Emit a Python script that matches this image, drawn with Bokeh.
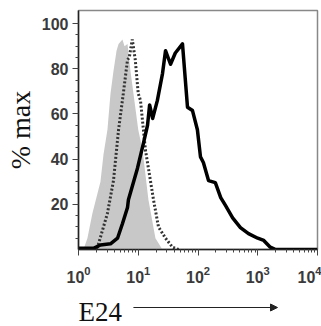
from bokeh.plotting import figure
from bokeh.layouts import column
from bokeh.models import (Range1d, FixedTicker, LogTicker, Arrow, NormalHead,
                          ColumnDataSource)
from bokeh.core.properties import value
from bokeh.embed import file_html
from bokeh.resources import INLINE

# Isotype control (gray filled)
iso_x = [1.21, 1.41, 1.71, 2.33, 2.62, 3.05, 3.43, 3.85, 4.33, 4.68, 5.44, 5.89,
         6.61, 7.41, 8.32, 10.0, 11.8, 14.8, 19.4, 25.4]
iso_y = [0, 5, 16, 30, 42, 53, 69, 79, 88, 91, 93, 90,
         91, 79, 69, 53, 44, 22, 5, 0]

# Dotted histogram
dot_x = [1.71, 2.08, 3.05, 3.85, 4.68, 5.62, 6.61, 7.08, 7.94, 8.91, 10.0, 10.9,
         13.2, 14.8, 18.0, 21.8, 28.6, 37.4, 47.2]
dot_y = [0, 1, 16, 30.5, 53, 69, 84, 85, 93, 84, 69, 66,
         44, 36, 22, 10, 5, 1, 0]

# E24 solid histogram
e24_x = [1.0, 1.78, 2.33, 3.43, 4.50, 5.45, 6.61, 6.85, 9.71, 12.2, 14.3, 15.5,
         17.4, 20.9, 25.5, 28.6, 34.7, 41.7, 55.0, 66.7, 80.9, 97.7, 110, 123,
         150, 195, 240, 288, 380, 513, 700, 1000, 1260, 1620, 2000, 10000]
e24_y = [0.5, 0.5, 2, 2.5, 5, 11.5, 18.6, 22, 36, 47, 55, 64,
         58, 66, 78, 88, 82, 87, 91, 63, 61.5, 53, 41, 38.5,
         30.5, 29.6, 23, 19.5, 14, 9.7, 7, 5, 4, 1, 0, 0]

y_major = [20, 40, 60, 80, 100]
y_minor = [5, 10, 15, 25, 30, 35, 45, 50, 55, 65, 70, 75, 85, 90, 95]
x_title = "E24"

p = figure(width=321, height=290, x_axis_type="log",
           x_range=Range1d(1, 10000), y_range=Range1d(0, 105.8),
           output_backend="svg", toolbar_location=None,
           min_border_left=78, min_border_right=4, min_border_top=10,
           min_border_bottom=41)
p.grid.visible = False
p.outline_line_color = "#888888"
p.outline_line_width = 1.5

iso_src = ColumnDataSource(dict(x=iso_x, y=iso_y, z=[0] * len(iso_x)))
p.varea(x="x", y1="z", y2="y", source=iso_src, fill_color="#c8c8c8")
p.line(dot_x, dot_y, line_color="#333333", line_width=3, line_dash="2 2")
p.line(e24_x, e24_y, line_color="black", line_width=3.5, line_join="round")

# Y axis
ya = p.yaxis[0]
ya.ticker = FixedTicker(ticks=y_major, minor_ticks=y_minor)
ya.axis_label = "% max"
ya.axis_label_text_font = "Liberation Serif"
ya.axis_label_text_font_size = "28px"
ya.axis_label_text_font_style = "normal"
ya.axis_label_text_color = "#111111"
ya.axis_label_standoff = 3
ya.major_label_text_font = "Liberation Sans"
ya.major_label_text_font_style = "bold"
ya.major_label_text_font_size = "16px"
ya.major_label_text_color = "#3a3a3a"
ya.major_label_standoff = 4
ya.major_tick_in = 0
ya.major_tick_out = 6
ya.minor_tick_in = 0
ya.minor_tick_out = 3
ya.axis_line_color = "#222222"
ya.axis_line_width = 1.5
ya.major_tick_line_color = "#444444"
ya.minor_tick_line_color = "#444444"

# X axis
xa = p.xaxis[0]
xa.ticker = LogTicker(num_minor_ticks=10)
xa.major_label_text_font = "Liberation Sans"
xa.major_label_text_font_style = "bold"
xa.major_label_text_font_size = "16px"
xa.major_label_text_color = "#3a3a3a"
xa.major_label_standoff = 10
xa.major_tick_in = 0
xa.major_tick_out = 6
xa.minor_tick_in = 0
xa.minor_tick_out = 3
xa.axis_line_color = "#222222"
xa.axis_line_width = 1.5
xa.major_tick_line_color = "#444444"
xa.minor_tick_line_color = "#444444"

# Strip below for the left-aligned axis title with its arrow
s = figure(width=321, height=36, x_axis_type="log",
           x_range=Range1d(1, 10000), y_range=Range1d(0, 36),
           output_backend="svg", toolbar_location=None,
           min_border_left=78, min_border_right=4, min_border_top=0,
           min_border_bottom=0)
s.axis.visible = False
s.grid.visible = False
s.outline_line_color = None
s.text(x=[1], y=[15], text=[x_title], text_font=value("Liberation Serif"),
       text_font_size="27px", text_color="#111111", text_align="left",
       text_baseline="middle")
s.add_layout(Arrow(x_start=8.3, y_start=19, x_end=2140, y_end=19,
                   line_color="#222222", line_width=1.2,
                   end=NormalHead(size=7, fill_color="#222222", line_color="#222222")))

layout = column(p, s, spacing=0)
open("out.html", "w").write(file_html(layout, INLINE))
